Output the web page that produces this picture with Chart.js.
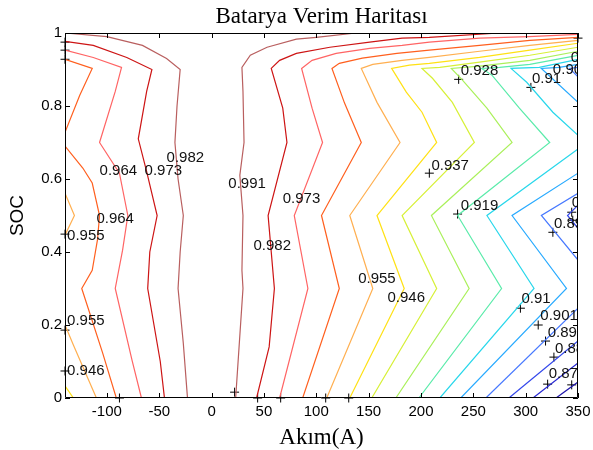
<!DOCTYPE html>
<html>
<head>
<meta charset="utf-8">
<title>Batarya Verim Haritası</title>
<script src="https://cdn.jsdelivr.net/npm/chart.js@4.4.1/dist/chart.umd.min.js"></script>
<style>
  html, body { margin: 0; padding: 0; background: #fff; }
</style>
</head>
<body>
<canvas id="verim" width="593" height="450"></canvas>
<script>
// axis ranges and ticks
const akimMin = -140, akimMax = 350;
const akimTicks = [-100, -50, 0, 50, 100, 150, 200, 250, 300, 350];
const socTicks = [0, 0.2, 0.4, 0.6, 0.8, 1];

// contour levels (efficiency) and their line colours
const levels = [0.991, 0.982, 0.973, 0.964, 0.955, 0.946, 0.937, 0.928, 0.919, 0.91, 0.901, 0.892, 0.883, 0.874, 0.865];
const levelColors = [
  'rgb(185,95,95)', 'rgb(205,20,20)', 'rgb(255,100,100)', 'rgb(255,95,30)', 'rgb(255,175,80)',
  'rgb(255,225,20)', 'rgb(215,240,55)', 'rgb(170,240,90)', 'rgb(90,235,170)', 'rgb(40,215,235)',
  'rgb(40,170,255)', 'rgb(70,120,255)', 'rgb(50,70,235)', 'rgb(40,40,210)', 'rgb(30,20,170)'
];

// contour pieces per level, points are [current A, SOC]
const c991 = [
  [[-140,1.0],[-100,0.99],[-66,0.966],[-43,0.93],[-30,0.90],[-33,0.80],[-35,0.70],[-32,0.60],[-27,0.50],[-30,0.40],[-32,0.30],[-27,0.15],[-23,0]],
  [[138,1.0],[100,0.988],[81,0.983],[53,0.961],[37,0.939],[29,0.906],[30,0.84],[31,0.70],[27,0.61],[30,0.50],[29,0.35],[30,0.30],[23,0]]
];
const c982 = [
  [[-140,0.977],[-113,0.966],[-81,0.933],[-57,0.90],[-62,0.84],[-70,0.71],[-62,0.62],[-52,0.50],[-59,0.40],[-61,0.30],[-49,0.10],[-45,0]],
  [[275,1.0],[208,0.988],[182,0.986],[151,0.975],[113,0.961],[81,0.944],[65,0.925],[57,0.903],[68,0.794],[72,0.70],[54,0.50],[60,0.30],[55,0.14],[43,0]]
];
const c973 = [
  [[-140,0.953],[-113,0.933],[-86,0.906],[-92,0.84],[-107,0.70],[-88,0.616],[-80,0.50],[-85,0.405],[-92,0.30],[-76,0.104],[-67,0]],
  [[350,0.996],[303,0.99],[256,0.986],[208,0.975],[182,0.966],[151,0.958],[119,0.944],[96,0.925],[86,0.903],[96,0.794],[106,0.70],[79,0.50],[92,0.30],[65,0]]
];
const c964 = [
  [[-140,0.928],[-114,0.903],[-126,0.829],[-140,0.728]],
  [[-140,0.69],[-123,0.63],[-114,0.589],[-107,0.50],[-109,0.433],[-114,0.35],[-124,0.30],[-104,0.123],[-91,0]],
  [[350,0.988],[304,0.98],[256,0.966],[208,0.953],[177,0.944],[144,0.931],[122,0.917],[115,0.903],[127,0.808],[143,0.70],[105,0.50],[122,0.30],[87,0]]
];
const c955 = [
  [[-140,0.561],[-131,0.50],[-140,0.446]],
  [[-140,0.20],[-132,0.145],[-110,0]],
  [[350,0.98],[304,0.966],[256,0.95],[208,0.933],[182,0.925],[154,0.914],[143,0.903],[158,0.81],[180,0.70],[132,0.50],[154,0.30],[110,0]]
];
const c946 = [
  [[-140,0.033],[-132,0]],
  [[350,0.972],[304,0.953],[256,0.933],[208,0.917],[189,0.912],[172,0.903],[186,0.838],[201,0.783],[215,0.70],[158,0.50],[184,0.30],[132,0]]
];
const c937 = [
  [[350,0.961],[304,0.939],[256,0.92],[218,0.906],[201,0.903],[211,0.876],[230,0.81],[251,0.70],[182,0.50],[215,0.30],[153,0]]
];
const c928 = [
  [[350,0.95],[304,0.925],[256,0.909],[229,0.903],[239,0.873],[263,0.794],[287,0.70],[210,0.50],[246,0.30],[176,0]]
];
const c919 = [
  [[350,0.939],[304,0.914],[275,0.906],[258,0.903],[268,0.884],[294,0.794],[323,0.70],[235,0.50],[277,0.30],[198,0]]
];
const c910 = [
  [[350,0.928],[313,0.906],[286,0.903],[301,0.865],[326,0.783],[350,0.72]],
  [[350,0.682],[263,0.50],[308,0.30],[218,0]]
];
const c901 = [
  [[350,0.914],[332,0.906],[315,0.903],[350,0.81]],
  [[350,0.616],[287,0.50],[339,0.30],[238,0]]
];
const c892 = [
  [[350,0.906],[342,0.903],[350,0.88]],
  [[350,0.561],[315,0.50],[350,0.378]],
  [[350,0.246],[262,0]]
];
const c883 = [
  [[350,0.528],[340,0.50],[350,0.465]],
  [[350,0.156],[284,0]]
];
const c874 = [[[350,0.096],[307,0]]];
const c865 = [[[350,0.044],[329,0]]];
const contours = [c991, c982, c973, c964, c955, c946, c937, c928, c919, c910, c901, c892, c883, c874, c865];

// clabel "+" marks and the level texts next to them: [level, current, SOC]
const plusMarks = [[-140,0.975],[-140,0.953],[-140,0.928],[-140,0.449],[-140,0.186],[-140,0.074],
  [-88,0],[22,0.016],[44,0],[66,0],[109,0],[131,0],[236,0.873],[305,0.851],[208,0.616],[235,0.504],
  [326,0.454],[344,0.509],[345,0.487],[295,0.246],[312,0.20],[319,0.156],[327,0.112],[321,0.038],[344,0.036],[350,0.986]];
const labelSpots = [[0.982,-43,0.646],[0.964,-107,0.61],[0.973,-64,0.61],[0.991,16,0.575],[0.973,68,0.534],
  [0.964,-110,0.479],[0.955,-138,0.433],[0.982,40,0.405],[0.955,140,0.315],[0.946,168,0.263],
  [0.955,-138,0.20],[0.946,-138,0.063],[0.928,238,0.884],[0.91,306,0.862],[0.901,326,0.887],[0.892,343,0.92],
  [0.937,210,0.624],[0.919,238,0.515],[0.892,327,0.465],[0.883,344,0.523],[0.91,296,0.26],[0.901,314,0.214],
  [0.892,321,0.167],[0.883,328,0.123],[0.874,322,0.055]];

const toXY = pts => pts.map(([x, y]) => ({x, y}));
const datasets = [];
contours.forEach((pieces, i) => {
  pieces.forEach(piece => datasets.push({
    data: toXY(piece),
    showLine: true,
    borderColor: levelColors[i],
    borderWidth: 1.2,
    pointRadius: 0,
    fill: false
  }));
});
datasets.push({
  data: toXY(plusMarks),
  pointStyle: 'cross',
  pointRadius: 4.5,
  borderColor: '#000',
  borderWidth: 1,
  showLine: false,
  clip: false
});

// axes box, inward ticks and the contour level texts
const axesBox = {
  id: 'axesBox',
  afterDatasetsDraw(chart) {
    const {ctx, chartArea: a, scales: {x, y}} = chart;
    ctx.save();
    ctx.beginPath();
    ctx.rect(a.left, a.top, a.right - a.left, a.bottom - a.top);
    ctx.clip();
    ctx.font = '15px "Liberation Sans", Arial, sans-serif';
    ctx.fillStyle = '#111';
    ctx.textAlign = 'left';
    ctx.textBaseline = 'alphabetic';
    labelSpots.forEach(([lv, i, s]) => ctx.fillText(String(lv), x.getPixelForValue(i), y.getPixelForValue(s)));
    ctx.restore();

    ctx.save();
    ctx.strokeStyle = '#000';
    ctx.lineWidth = 1;
    ctx.beginPath();
    ctx.rect(a.left + 0.5, a.top + 0.5, a.right - a.left - 1, a.bottom - a.top - 1);
    akimTicks.forEach(v => {
      const px = Math.round(x.getPixelForValue(v)) + 0.5;
      ctx.moveTo(px, a.bottom); ctx.lineTo(px, a.bottom - 5);
      ctx.moveTo(px, a.top); ctx.lineTo(px, a.top + 5);
    });
    socTicks.forEach(v => {
      const py = Math.round(y.getPixelForValue(v)) + 0.5;
      ctx.moveTo(a.left, py); ctx.lineTo(a.left + 5, py);
      ctx.moveTo(a.right, py); ctx.lineTo(a.right - 5, py);
    });
    ctx.stroke();
    ctx.restore();
  }
};

new Chart(document.getElementById('verim'), {
  type: 'scatter',
  data: { datasets },
  options: {
    responsive: false,
    animation: false,
    layout: { padding: { top: 0, right: 15, bottom: 0, left: 0 } },
    plugins: {
      legend: { display: false },
      tooltip: { enabled: false },
      title: {
        display: true,
        text: 'Batarya Verim Haritası',
        fullSize: false,
        color: '#000',
        font: { family: '"Liberation Serif", "Times New Roman", serif', size: 23, weight: 'normal', lineHeight: 1.1 },
        padding: { top: 4, bottom: 3.7 }
      }
    },
    scales: {
      x: {
        type: 'linear',
        min: akimMin,
        max: akimMax,
        afterBuildTicks: s => { s.ticks = akimTicks.map(v => ({value: v})); },
        afterFit: s => { s.height = 52; s.paddingLeft = 0; s.paddingRight = 0; },
        grid: { display: false, drawTicks: false },
        border: { display: false },
        ticks: {
          color: '#000',
          padding: 5,
          font: { family: '"Liberation Sans", Arial, sans-serif', size: 15 },
          callback: v => String(v)
        },
        title: {
          display: true,
          text: 'Akım(A)',
          color: '#000',
          font: { family: '"Liberation Serif", "Times New Roman", serif', size: 23, lineHeight: 1.1 },
          padding: { top: 0, bottom: -1 }
        }
      },
      y: {
        type: 'linear',
        min: 0,
        max: 1,
        afterBuildTicks: s => { s.ticks = socTicks.map(v => ({value: v})); },
        afterFit: s => { s.width = 65; s.paddingTop = 0; s.paddingBottom = 0; },
        grid: { display: false, drawTicks: false },
        border: { display: false },
        ticks: {
          color: '#000',
          padding: 3,
          font: { family: '"Liberation Sans", Arial, sans-serif', size: 15 },
          callback: v => String(v)
        },
        title: {
          display: true,
          text: 'SOC',
          color: '#000',
          font: { family: '"Liberation Sans", Arial, sans-serif', size: 19 },
          padding: { top: 6, bottom: 0 }
        }
      }
    }
  },
  plugins: [axesBox]
});
</script>
</body>
</html>
